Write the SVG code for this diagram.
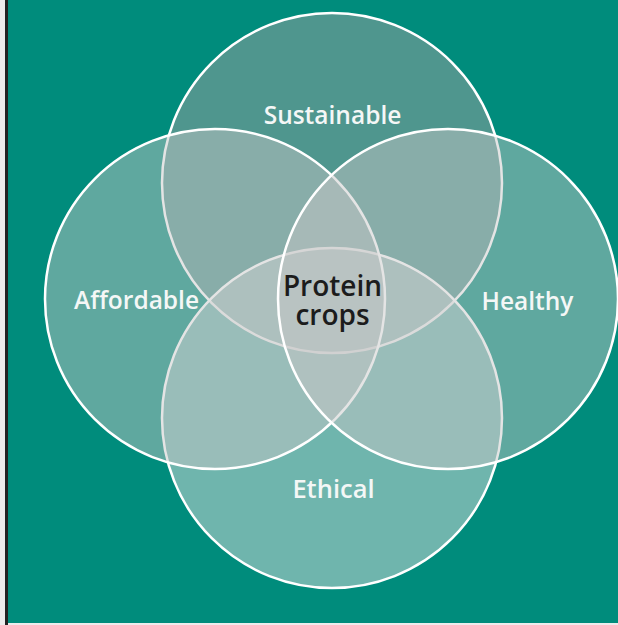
<svg xmlns="http://www.w3.org/2000/svg" width="618" height="625" viewBox="0 0 618 625">
  <style>
    .ring { stroke: #ffffff; stroke-width: 2.5; }
    .lbl { font-family: "Open Sans", "DejaVu Sans", sans-serif; font-weight: 600; font-size: 24.5px; fill: #f4f7f6; text-anchor: middle; }
    .core { font-family: "Open Sans", "DejaVu Sans", sans-serif; font-weight: 600; font-size: 28px; fill: #1c1c1c; text-anchor: middle; }
  </style>
  <rect x="0" y="0" width="618" height="625" fill="#ececec"/>
  <rect x="5" y="0" width="3" height="625" fill="#222222"/>
  <rect x="8" y="0" width="610" height="623" fill="#008c7c"/>
  <g id="sustainable">
    <circle class="ring" cx="332" cy="183" r="170" fill="#a2a2a2" fill-opacity="0.49"/>
  </g>
  <g id="ethical">
    <circle class="ring" cx="332" cy="418" r="170" fill="#dedede" fill-opacity="0.5"/>
  </g>
  <g id="affordable">
    <circle class="ring" cx="215" cy="299" r="170" fill="#c6c6c6" fill-opacity="0.48"/>
  </g>
  <g id="healthy">
    <circle class="ring" cx="448" cy="299" r="170" fill="#c6c6c6" fill-opacity="0.48"/>
  </g>
  <g id="labels">
    <text class="lbl" x="332.5" y="124">Sustainable</text>
    <text class="lbl" x="136.5" y="309">Affordable</text>
    <text class="lbl" x="527.5" y="310">Healthy</text>
    <text class="lbl" x="333.5" y="498" style="font-size:25.5px">Ethical</text>
  </g>
  <g id="protein-crops">
    <text class="core" x="332.5" y="296"><tspan x="332.5" y="296">Protein</tspan><tspan x="332.5" y="325">crops</tspan></text>
  </g>
  <g id="connectors"></g>
</svg>
